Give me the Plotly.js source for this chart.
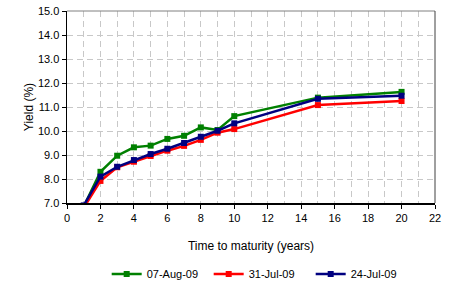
<!DOCTYPE html>
<html>
<head>
<meta charset="utf-8">
<script src="https://cdn.plot.ly/plotly-3.0.1.min.js"></script>
<style>html,body{margin:0;padding:0;background:#fff;}#chart{width:454px;height:284px;}</style>
</head>
<body>
<div id="chart"></div>
<script>
var maturities = [1, 2, 3, 4, 5, 6, 7, 8, 9, 10, 15, 20];
var aug07 = [6.85, 8.30, 8.97, 9.32, 9.39, 9.67, 9.80, 10.15, 10.04, 10.62, 11.39, 11.63];
var jul31 = [6.8, 7.92, 8.49, 8.72, 8.96, 9.18, 9.38, 9.63, 9.93, 10.08, 11.08, 11.25];
var jul24 = [6.9, 8.10, 8.51, 8.79, 9.04, 9.26, 9.50, 9.76, 10.01, 10.32, 11.34, 11.47];
var seriesNames = ['07-Aug-09', '31-Jul-09', '24-Jul-09'];
var xTicks = [0, 2, 4, 6, 8, 10, 12, 14, 16, 18, 20, 22];
var yTicks = [7, 8, 9, 10, 11, 12, 13, 14, 15];

function tr(y, name, color) {
  return {
    x: maturities, y: y, name: name, type: 'scatter', mode: 'lines+markers',
    line: {color: color, width: 2.5},
    marker: {color: color, symbol: 'square', size: 6},
    cliponaxis: true
  };
}
var data = [
  tr(aug07, seriesNames[0], '#008000'),
  tr(jul31, seriesNames[1], '#FF0000'),
  tr(jul24, seriesNames[2], '#000080')
];
var layout = {
  width: 454, height: 284,
  margin: {l: 67, r: 19, t: 11, b: 81},
  paper_bgcolor: '#fff', plot_bgcolor: '#fff',
  font: {family: 'Liberation Sans, Arial, sans-serif', size: 11, color: '#000'},
  showlegend: true,
  xaxis: {
    range: [0, 22], tickvals: xTicks, ticktext: xTicks.map(String),
    showgrid: true, gridcolor: '#c8c8c8', griddash: '6px,4px',
    minor: {dtick: 1, tick0: 0, showgrid: true, gridcolor: '#c8c8c8', griddash: '6px,4px'},
    showline: true, linecolor: '#000', linewidth: 1.5,
    ticks: 'outside', ticklen: 4, tickcolor: '#000', zeroline: false,
    tickfont: {size: 11},
    title: {text: 'Time to maturity (years)', font: {size: 12}},
    automargin: false, fixedrange: true
  },
  yaxis: {
    range: [7, 15], tickvals: yTicks, ticktext: yTicks.map(function(v){return v.toFixed(1);}),
    showgrid: true, gridcolor: '#c8c8c8', griddash: '6px,4px',
    showline: true, linecolor: '#000', linewidth: 1.5,
    ticks: 'outside', ticklen: 4, tickcolor: '#000', zeroline: false,
    tickfont: {size: 11},
    title: {text: 'Yield (%)', font: {size: 12}},
    automargin: false, fixedrange: true
  },
  shapes: [
    {type: 'line', xref: 'paper', yref: 'paper', x0: 0, x1: 1, y0: 1, y1: 1, line: {color: '#808080', width: 1}},
    {type: 'line', xref: 'paper', yref: 'paper', x0: 1, x1: 1, y0: 0, y1: 1, line: {color: '#404040', width: 1}}
  ],
  legend: {
    orientation: 'h', xref: 'container', yref: 'container',
    x: 0.572, xanchor: 'center', y: 0.035, yanchor: 'middle',
    font: {size: 11}, itemwidth: 30, entrywidth: 57
  }
};
Plotly.newPlot('chart', data, layout, {displayModeBar: false, staticPlot: true});
</script>
</body>
</html>
